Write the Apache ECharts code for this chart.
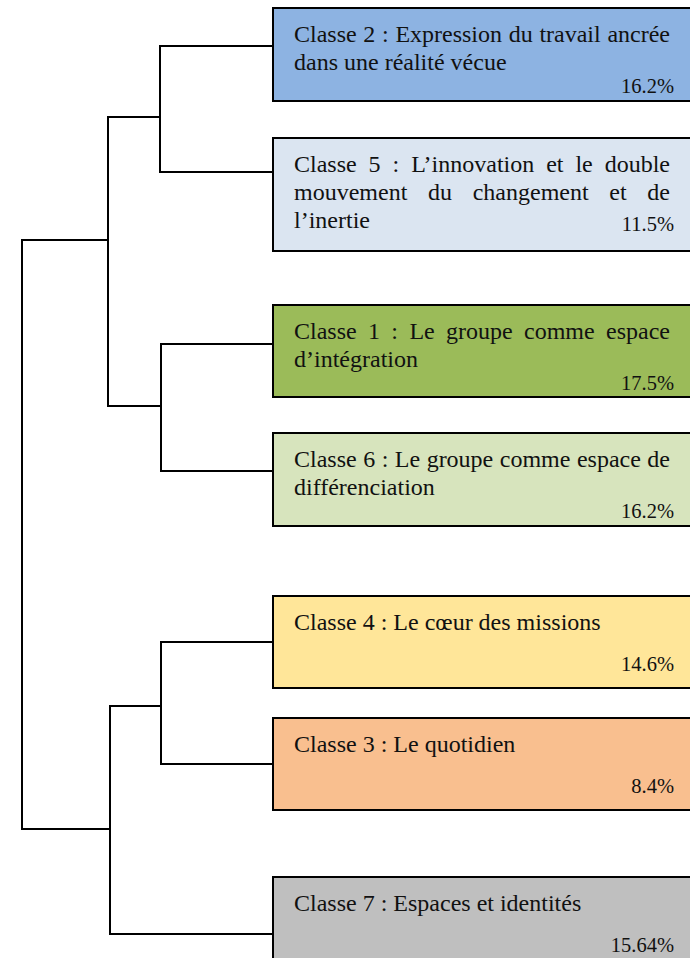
<!DOCTYPE html>
<html>
<head>
<meta charset="utf-8">
<script src="https://cdn.jsdelivr.net/npm/echarts@6/dist/echarts.min.js"></script>
<style>
  html, body { margin: 0; padding: 0; background: #fff; }
  #chart { width: 690px; height: 958px; }
</style>
</head>
<body>
<div id="chart"></div>
<script>
// classes in dendrogram order (top to bottom)
const classLines = [
  ['Classe 2 : Expression du travail ancrée', 'dans une réalité vécue'],
  ['Classe 5 : L’innovation et le double', 'mouvement du changement et de', 'l’inertie'],
  ['Classe 1 : Le groupe comme espace', 'd’intégration'],
  ['Classe 6 : Le groupe comme espace de', 'différenciation'],
  ['Classe 4 : Le cœur des missions'],
  ['Classe 3 : Le quotidien'],
  ['Classe 7 : Espaces et identités'],
];
const classShares = ['16.2%', '11.5%', '17.5%', '16.2%', '14.6%', '8.4%', '15.64%'];

// leaf branch level and class box extent on the vertical axis
const leafY = [46, 172, 344, 471, 642, 764, 934];
const boxTop = [8, 138, 305, 433, 596, 718, 877];
const boxBottom = [101, 251, 397, 526, 688, 810, 990];

// merges: L = leaf index, N = earlier merge index
const mergeChildren = [['L0', 'L1'], ['L2', 'L3'], ['L4', 'L5'], ['N0', 'N1'], ['N2', 'L6'], ['N3', 'N4']];
const mergeHeight = [2.26, 2.24, 2.24, 3.3, 3.26, 5.02];
const mergeY = [117, 406, 706, 240, 829, 534];

const boxColors = ['#8db3e2', '#dbe5f1', '#9bbb59', '#d7e4bd', '#ffe699', '#f9bf8f', '#bfbfbf'];
const serif = '"Liberation Serif", "Times New Roman", serif';
const labelSize = 24;
const shareSize = 20.5;
const textPad = 21;
const justifyWidth = 376;

const measureCtx = document.createElement('canvas').getContext('2d');
function textWidth(str, size) {
  measureCtx.font = size + 'px ' + serif;
  return measureCtx.measureText(str).width;
}

function resolve(id) {
  const i = Number(id.slice(1));
  return id[0] === 'L' ? [0, leafY[i]] : [mergeHeight[i], mergeY[i]];
}

const linkData = mergeChildren.map((pair, i) => {
  const a = resolve(pair[0]);
  const b = resolve(pair[1]);
  return [mergeHeight[i], a[0], a[1], b[0], b[1]];
});
const boxData = classLines.map((_, i) => [0, boxTop[i], boxBottom[i]]);

function lineTexts(line, x, y, justify) {
  const base = { fill: '#111', fontSize: labelSize, fontFamily: serif, verticalAlign: 'middle', align: 'left' };
  if (!justify) {
    return [{ type: 'text', style: Object.assign({}, base, { text: line, x: x, y: y }) }];
  }
  const words = line.split(' ');
  const widths = words.map((w) => textWidth(w, labelSize));
  const total = widths.reduce((s, w) => s + w, 0);
  const gap = (justifyWidth - total) / (words.length - 1);
  let cx = x;
  return words.map((w, k) => {
    const el = { type: 'text', style: Object.assign({}, base, { text: w, x: cx, y: y }) };
    cx += widths[k] + gap;
    return el;
  });
}

const chart = echarts.init(document.getElementById('chart'), null, { renderer: 'svg' });

chart.setOption({
  backgroundColor: '#fff',
  animation: false,
  grid: { left: 0, right: 417, top: 0, bottom: 0 },
  xAxis: { type: 'value', inverse: true, min: 0, max: 5.46, show: false },
  yAxis: { type: 'value', inverse: true, min: 0, max: 958, show: false },
  series: [
    {
      type: 'custom',
      name: 'links',
      clip: false,
      z: 1,
      data: linkData,
      renderItem(params, api) {
        const h = api.value(0);
        const a = api.coord([api.value(1), api.value(2)]);
        const b = api.coord([api.value(3), api.value(4)]);
        const pa = api.coord([h, api.value(2)]);
        const pb = api.coord([h, api.value(4)]);
        const style = { stroke: '#000', lineWidth: 2, fill: null, lineCap: 'square' };
        return {
          type: 'group',
          children: [
            { type: 'line', shape: { x1: pa[0], y1: pa[1], x2: pb[0], y2: pb[1] }, style },
            { type: 'line', shape: { x1: pa[0], y1: pa[1], x2: a[0], y2: a[1] }, style },
            { type: 'line', shape: { x1: pb[0], y1: pb[1], x2: b[0], y2: b[1] }, style },
          ],
        };
      },
    },
    {
      type: 'custom',
      name: 'classes',
      clip: false,
      z: 2,
      data: boxData,
      renderItem(params, api) {
        const i = params.dataIndex;
        const tl = api.coord([api.value(0), api.value(1)]);
        const br = api.coord([api.value(0), api.value(2)]);
        const x0 = tl[0];
        const y0 = tl[1];
        const lines = classLines[i];
        const children = [{
          type: 'rect',
          shape: { x: x0, y: y0, width: api.getWidth() - x0 + 4, height: br[1] - y0 },
          style: { fill: boxColors[i], stroke: '#000', lineWidth: 2 },
        }];
        lines.forEach((line, k) => {
          const justify = k < lines.length - 1;
          children.push(...lineTexts(line, x0 + textPad, y0 + 25.5 + k * 28, justify));
        });
        const shareOffset = lines.length === 1 ? 68 : lines.length === 2 ? 78 : 86;
        children.push({
          type: 'text',
          style: {
            text: classShares[i], x: x0 + 401, y: y0 + shareOffset,
            fill: '#111', fontSize: shareSize, fontFamily: serif, align: 'right', verticalAlign: 'middle',
          },
        });
        return { type: 'group', children };
      },
    },
  ],
});
</script>
</body>
</html>
